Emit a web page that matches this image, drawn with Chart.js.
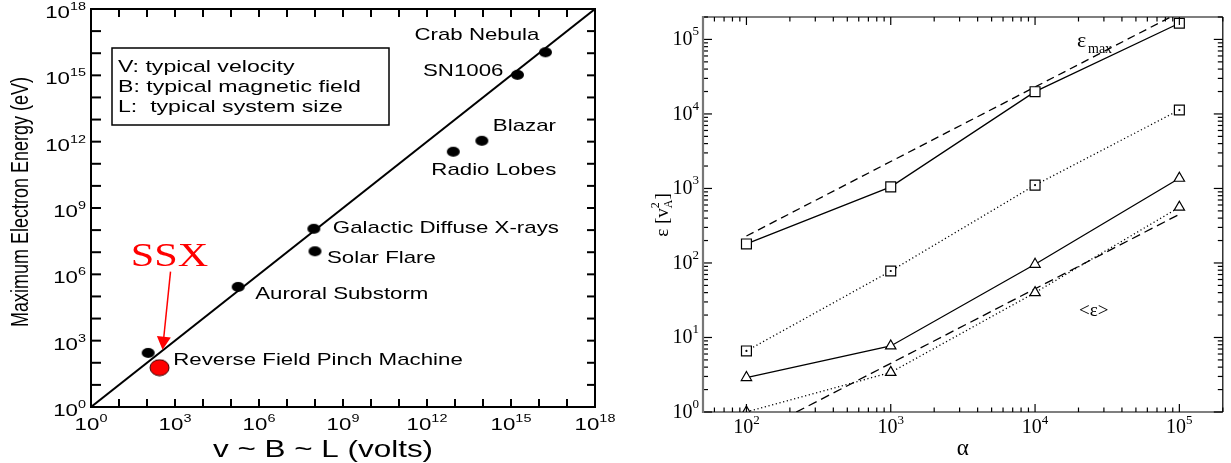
<!DOCTYPE html>
<html>
<head>
<meta charset="utf-8">
<script src="https://cdn.jsdelivr.net/npm/chart.js@4.4.0/dist/chart.umd.min.js"></script>
<style>
    html, body { margin: 0; padding: 0; background: #fff; }
    #wrap { position: relative; width: 1231px; height: 463px; overflow: hidden; }
    #leftChart { position: absolute; left: 0; top: 0; }
    #rightChart { position: absolute; left: 620px; top: 0; }
</style>
</head>
<body>
<div id="wrap">
    <canvas id="leftChart" width="620" height="463"></canvas>
    <canvas id="rightChart" width="611" height="463"></canvas>
</div>
<script>
// ===============================
// Left panel data (Hillas-type plot)
// ===============================
const sourceNames = ['Crab Nebula', 'SN1006', 'Blazar', 'Radio Lobes', 'Galactic Diffuse X-rays', 'Solar Flare', 'Auroral Substorm', 'Reverse Field Pinch Machine'];
const sourceVolts = [1.7e16, 1.7e15, 9.1e13, 8.7e12, 9.1e7, 1.0e8, 1.8e5, 1.1e2];
const sourceEnergy = [1.1e16, 1.05e15, 1.1e12, 3.5e11, 1.15e8, 1.1e7, 2.7e5, 2.8e2];
const ssxVolts = [2.8e2];
const ssxEnergy = [60];
const diagVolts = [1, 1e18];
const diagEnergy = [1, 1e18];
const leftTickExp = [0, 3, 6, 9, 12, 15, 18];
const legendLines = ['V: typical velocity', 'B: typical magnetic field', 'L:  typical system size'];

// ===============================
// Right panel data
// ===============================
const alphaValues = [1e2, 1e3, 1e4, 1e5];
const emaxSolid = [180, 1050, 19900, 165000];
const emaxDotted = [6.6, 78, 1110, 11300];
const meanSolid = [2.9, 7.7, 96, 1370];
const meanDotted = [1.0, 3.4, 40, 560];
const emaxTheoryAlpha = [1e2, 1e5];
const emaxTheory = [230, 2.3e5];
const meanTheoryAlpha = [1e2, 1e5];
const meanTheory = [0.45, 450];
const rightXTickExp = [2, 3, 4, 5];
const rightYTickExp = [0, 1, 2, 3, 4, 5];

function toXY(xs, ys) {
    return xs.map((x, i) => ({ x: x, y: ys[i] }));
}

// ===============================
// Drawing helpers
// ===============================
const SX = 1.31; // left figure looks stretched sideways

function drawText(ctx, text, x, y, font, align, sx, baseline) {
    ctx.save();
    ctx.font = font;
    ctx.translate(x, y);
    ctx.scale(sx, 1);
    ctx.textAlign = align;
    ctx.textBaseline = baseline || 'middle';
    ctx.fillText(text, 0, 0);
    ctx.restore();
}

function drawPow(ctx, exp, x, y, baseFont, supFont, align, sx, supRise) {
    ctx.save();
    ctx.font = baseFont;
    const w1 = ctx.measureText('10').width;
    ctx.font = supFont;
    const w2 = ctx.measureText(String(exp)).width;
    const total = (w1 + w2) * sx;
    let x0 = x;
    if (align === 'center') x0 = x - total / 2;
    if (align === 'right') x0 = x - total;
    ctx.textAlign = 'left';
    ctx.textBaseline = 'alphabetic';
    ctx.translate(x0, y);
    ctx.scale(sx, 1);
    ctx.font = baseFont;
    ctx.fillText('10', 0, 0);
    ctx.font = supFont;
    ctx.fillText(String(exp), w1, -supRise);
    ctx.restore();
}

function line(ctx, x1, y1, x2, y2) {
    ctx.beginPath();
    ctx.moveTo(x1, y1);
    ctx.lineTo(x2, y2);
    ctx.stroke();
}

function makeEllipse(w, h, fill, stroke) {
    const c = document.createElement('canvas');
    c.width = w + 2;
    c.height = h + 2;
    const g = c.getContext('2d');
    g.beginPath();
    g.ellipse(c.width / 2, c.height / 2, w / 2, h / 2, 0, 0, Math.PI * 2);
    g.fillStyle = fill;
    g.fill();
    if (stroke) {
        g.lineWidth = 1;
        g.strokeStyle = stroke;
        g.stroke();
    }
    return c;
}

// label offsets from each source dot: dx, dy, align
const labelOffsets = [
    [-6, -17, 'right'],
    [-14, -4, 'right'],
    [11, -14, 'left'],
    [-22, 19, 'left'],
    [19, 0, 'left'],
    [12, 7, 'left'],
    [17, 7, 'left'],
    [25, 7, 'left']
];

// ===============================
// Left panel decorations
// ===============================
const leftDecor = {
    id: 'leftDecor',
    afterDraw(chart) {
        const ctx = chart.ctx;
        const a = chart.chartArea;
        const xs = chart.scales.x;
        const ys = chart.scales.y;
        const sans = '"Liberation Sans", Arial, sans-serif';

        ctx.save();
        ctx.strokeStyle = '#000';
        ctx.fillStyle = '#000';
        ctx.lineWidth = 2;
        ctx.strokeRect(a.left, a.top, a.right - a.left, a.bottom - a.top);

        // ticks every decade on all sides
        for (let e = 0; e <= 18; e++) {
            const px = xs.getPixelForValue(Math.pow(10, e));
            const py = ys.getPixelForValue(Math.pow(10, e));
            line(ctx, px, a.top, px, a.top + 8);
            line(ctx, px, a.bottom, px, a.bottom - 8);
            line(ctx, a.left, py, a.left + 10, py);
            line(ctx, a.right, py, a.right - 8, py);
        }

        leftTickExp.forEach(e => {
            const px = xs.getPixelForValue(Math.pow(10, e));
            const py = ys.getPixelForValue(Math.pow(10, e));
            drawPow(ctx, e, px, a.bottom + 23, '17px ' + sans, '11px ' + sans, 'center', SX, 8);
            drawPow(ctx, e, a.left - 5, py + 9, '17px ' + sans, '11px ' + sans, 'right', SX, 8);
        });

        // axis titles
        drawText(ctx, 'v ~ B ~ L (volts)', 323, 450, '24px ' + sans, 'center', SX);
        ctx.save();
        ctx.translate(21, 202);
        ctx.rotate(-Math.PI / 2);
        ctx.scale(1, SX);
        ctx.font = '18px ' + sans;
        ctx.textAlign = 'center';
        ctx.textBaseline = 'middle';
        ctx.fillText('Maximum Electron Energy (eV)', 0, 0);
        ctx.restore();

        // legend box
        ctx.lineWidth = 1.5;
        ctx.strokeRect(112, 48, 277, 77);
        legendLines.forEach((t, i) => {
            drawText(ctx, t, 118, 67 + i * 20, '17px ' + sans, 'left', 1.36);
        });

        // source labels
        const meta = chart.getDatasetMeta(0);
        meta.data.forEach((pt, i) => {
            const o = labelOffsets[i];
            drawText(ctx, sourceNames[i], pt.x + o[0], pt.y + o[1], '17px ' + sans, o[2], SX);
        });

        // SSX label and arrow
        const red = chart.getDatasetMeta(1).data[0];
        ctx.fillStyle = '#f00';
        ctx.strokeStyle = '#f00';
        drawText(ctx, 'SSX', red.x + 10, red.y - 110, '33px "Liberation Serif", serif', 'center', 1.28);
        const tx = red.x + 11, ty = red.y - 96;
        const hx = red.x + 3, hy = red.y - 18;
        const ang = Math.atan2(hy - ty, hx - tx);
        ctx.lineWidth = 1.5;
        line(ctx, tx, ty, hx - 12 * Math.cos(ang), hy - 12 * Math.sin(ang));
        ctx.beginPath();
        ctx.moveTo(hx, hy);
        ctx.lineTo(hx - 13 * Math.cos(ang) + 7 * Math.sin(ang), hy - 13 * Math.sin(ang) - 7 * Math.cos(ang));
        ctx.lineTo(hx - 13 * Math.cos(ang) - 7 * Math.sin(ang), hy - 13 * Math.sin(ang) + 7 * Math.cos(ang));
        ctx.closePath();
        ctx.fill();
        ctx.restore();
    }
};

// ===============================
// Right panel decorations
// ===============================
const rightDecor = {
    id: 'rightDecor',
    afterDraw(chart) {
        const ctx = chart.ctx;
        const a = chart.chartArea;
        const xs = chart.scales.x;
        const ys = chart.scales.y;
        const serif = '"Liberation Serif", "Times New Roman", serif';

        ctx.save();
        ctx.strokeStyle = '#000';
        ctx.fillStyle = '#000';
        ctx.lineWidth = 1.2;
        line(ctx, a.left, a.top, a.right, a.top);
        line(ctx, a.right, a.top, a.right, a.bottom);
        line(ctx, a.left, a.bottom, a.right, a.bottom);

        // x ticks (top + bottom)
        for (let e = 1; e <= 5; e++) {
            for (let m = 1; m <= 9; m++) {
                const v = m * Math.pow(10, e);
                if (v < xs.min || v > xs.max) continue;
                const px = xs.getPixelForValue(v);
                const len = m === 1 ? 8 : 4.5;
                line(ctx, px, a.bottom, px, a.bottom - len);
                line(ctx, px, a.top, px, a.top + len);
            }
        }
        // y ticks (left + right)
        for (let e = 0; e <= 5; e++) {
            for (let m = 1; m <= 9; m++) {
                const v = m * Math.pow(10, e);
                if (v < ys.min || v > ys.max) continue;
                const py = ys.getPixelForValue(v);
                const len = m === 1 ? 9 : 5;
                line(ctx, a.left, py, a.left + len, py);
                line(ctx, a.right, py, a.right - len, py);
            }
        }
        ctx.strokeStyle = '#777';
        ctx.lineWidth = 2.2;
        line(ctx, a.left, a.top - 1, a.left, a.bottom + 1);

        rightXTickExp.forEach(e => {
            const px = xs.getPixelForValue(Math.pow(10, e));
            drawPow(ctx, e, px, a.bottom + 21, '20px ' + serif, '13px ' + serif, 'center', 1, 9);
        });
        rightYTickExp.forEach(e => {
            const py = ys.getPixelForValue(Math.pow(10, e));
            drawPow(ctx, e, a.left - 4, py + 6, '20px ' + serif, '13px ' + serif, 'right', 1, 10);
        });

        // axis titles
        drawText(ctx, '\u03b1', (a.left + a.right) / 2, 455, '23px ' + serif, 'center', 1, 'alphabetic');
        ctx.save();
        ctx.translate(42, 215);
        ctx.rotate(-Math.PI / 2);
        ctx.textBaseline = 'alphabetic';
        ctx.font = '19px ' + serif;
        const w0 = ctx.measureText('\u03b5 [v').width;
        ctx.font = '12px ' + serif;
        const wA = ctx.measureText('A').width;
        ctx.font = '19px ' + serif;
        const wEnd = ctx.measureText(']').width;
        let x0 = -(w0 + wA + wEnd) / 2;
        ctx.fillText('\u03b5 [v', x0, 6);
        ctx.font = '12px ' + serif;
        ctx.fillText('A', x0 + w0, 10);
        ctx.fillText('2', x0 + w0, -3);
        ctx.font = '19px ' + serif;
        ctx.fillText(']', x0 + w0 + wA, 6);
        ctx.restore();

        // curve labels
        ctx.font = '22px ' + serif;
        ctx.textAlign = 'left';
        ctx.fillText('\u03b5', 457, 47);
        ctx.font = '14px ' + serif;
        ctx.fillText('max', 468, 53);
        ctx.font = '19px ' + serif;
        ctx.fillText('<\u03b5>', 459, 316);
        ctx.restore();
    }
};

// ===============================
// Charts
// ===============================
const dotImg = makeEllipse(13, 10, '#000');
const redImg = makeEllipse(19, 16, '#f00', '#300');

new Chart(document.getElementById('leftChart'), {
    type: 'scatter',
    data: {
        datasets: [
            {
                data: toXY(sourceVolts, sourceEnergy),
                pointStyle: dotImg,
                pointRadius: 5,
                order: 0
            },
            {
                data: toXY(ssxVolts, ssxEnergy),
                pointStyle: redImg,
                pointRadius: 8,
                order: 0
            },
            {
                data: toXY(diagVolts, diagEnergy),
                showLine: true,
                borderColor: '#000',
                borderWidth: 2,
                pointRadius: 0,
                order: 1
            }
        ]
    },
    options: {
        responsive: false,
        animation: false,
        layout: { padding: { left: 91, top: 8, right: 25, bottom: 56 } },
        plugins: { legend: { display: false }, tooltip: { enabled: false } },
        scales: {
            x: { type: 'logarithmic', min: 1, max: 1e18, display: false },
            y: { type: 'logarithmic', min: 1, max: 1e18, display: false }
        }
    },
    plugins: [leftDecor]
});

const lineBase = {
    showLine: true,
    borderColor: '#000',
    borderWidth: 1.3,
    pointBackgroundColor: '#fff',
    pointBorderColor: '#000',
    pointBorderWidth: 1.2
};

new Chart(document.getElementById('rightChart'), {
    type: 'scatter',
    data: {
        datasets: [
            // small dot inside the dotted-line squares
            { data: toXY(alphaValues, emaxDotted), pointStyle: 'circle', pointRadius: 1.1, pointBackgroundColor: '#000', pointBorderWidth: 0, showLine: false, order: -1 },
            Object.assign({}, lineBase, { data: toXY(alphaValues, emaxSolid), pointStyle: 'rect', pointRadius: 7 }),
            Object.assign({}, lineBase, { data: toXY(emaxTheoryAlpha, emaxTheory), pointRadius: 0, borderDash: [8, 5] }),
            Object.assign({}, lineBase, { data: toXY(alphaValues, emaxDotted), pointStyle: 'rect', pointRadius: 7, borderDash: [1.2, 2.6] }),
            Object.assign({}, lineBase, { data: toXY(alphaValues, meanSolid), pointStyle: 'triangle', pointRadius: 6 }),
            Object.assign({}, lineBase, { data: toXY(alphaValues, meanDotted), pointStyle: 'triangle', pointRadius: 6, borderDash: [1.2, 2.6] }),
            Object.assign({}, lineBase, { data: toXY(meanTheoryAlpha, meanTheory), pointRadius: 0, borderDash: [9, 5] })
        ]
    },
    options: {
        responsive: false,
        animation: false,
        layout: { padding: { left: 83, top: 17, right: 8, bottom: 51 } },
        plugins: { legend: { display: false }, tooltip: { enabled: false } },
        scales: {
            x: { type: 'logarithmic', min: 50, max: 2e5, display: false },
            y: { type: 'logarithmic', min: 1, max: 2e5, display: false }
        }
    },
    plugins: [rightDecor]
});
</script>
</body>
</html>
